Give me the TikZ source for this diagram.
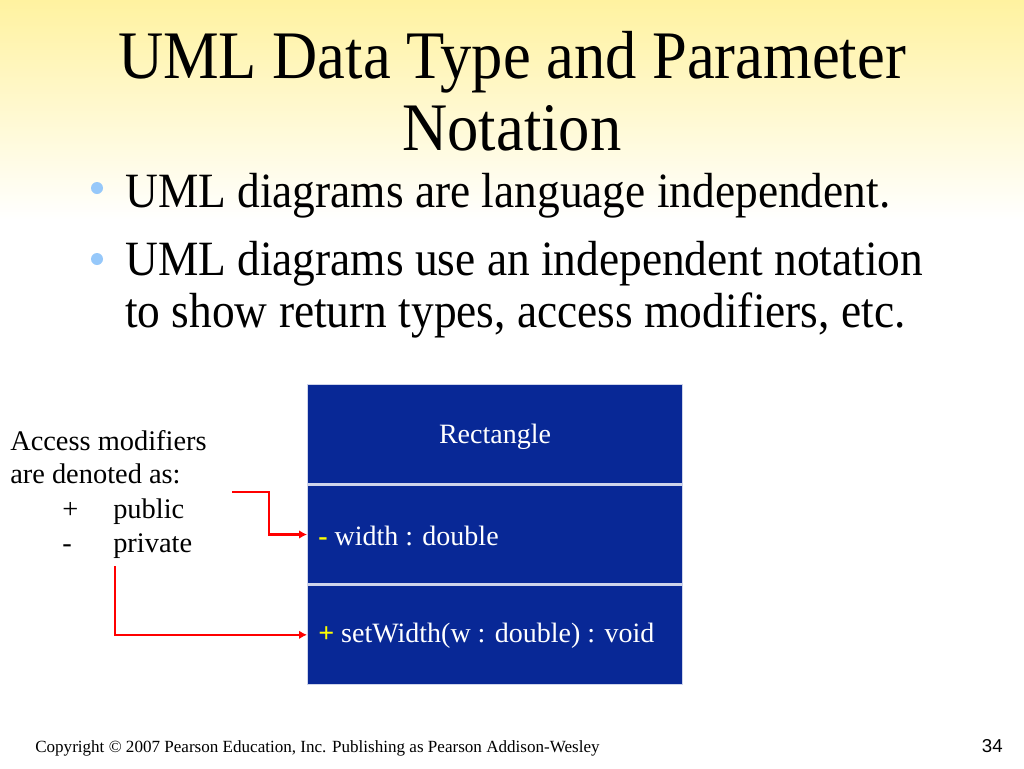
\documentclass[tikz,border=0pt]{standalone}
\usepackage{fontspec}
\setmainfont{Liberation Serif}
\newfontfamily\numfont{Liberation Sans}
\usetikzlibrary{arrows.meta,positioning}

\definecolor{slideyellow}{RGB}{255,242,160}
\definecolor{classblue}{RGB}{8,40,150}
\definecolor{bulletblue}{RGB}{150,200,250}
\definecolor{markyellow}{RGB}{255,255,0}
\newcommand{\modsign}[1]{\textcolor{markyellow}{\textbf{#1}}}
\newcommand{\narrowtext}[1]{\scalebox{0.92}[1]{#1}}

\begin{document}
\begin{tikzpicture}[
  x=0.75pt, y=-0.75pt,
  title/.style={inner sep=0pt, anchor=base, font=\fontsize{51}{54}\selectfont},
  bulletline/.style={inner sep=0pt, anchor=base west, font=\fontsize{37}{40}\selectfont},
  dot/.style={circle, fill=bulletblue, inner sep=0pt, minimum size=9pt},
  compart/.style={draw=white!80!classblue, line width=1pt, fill=classblue, minimum width=281.25pt, minimum height=74.25pt, inner sep=0pt},
  member/.style={inner sep=0pt, anchor=base west, text=white, font=\fontsize{21}{24}\selectfont},
  note/.style={inner sep=0pt, anchor=base west, font=\fontsize{21.3}{24}\selectfont},
  arr/.style={-{Latex[length=6pt,width=6.5pt]}, red, line width=2pt}
]
\useasboundingbox (0,0) rectangle (1024,768);
\shade[top color=slideyellow, bottom color=white] (0,0) rectangle (1024,220);

\node[title] (title1) at (512,78) {\narrowtext{UML Data Type and Parameter}};
\node[title] (title2) at (512,150) {\narrowtext{Notation}};

\node[dot] (dot1) at (97,188) {};
\node[bulletline] (bullet1) at (125,207) {\narrowtext{UML diagrams are language independent.}};
\node[dot] (dot2) at (97,259) {};
\node[bulletline] (bullet2) at (125,275) {\narrowtext{UML diagrams use an independent notation}};
\node[bulletline] (bullet2b) at (125,327) {\narrowtext{to show return types, access modifiers, etc.}};

% class box
\node[compart, anchor=north west] (cname) at (307,384) {};
\node[compart, below=0pt of cname] (cattr) {};
\node[compart, below=0pt of cattr] (cop) {};
\node[member, anchor=base] (clsname) at (495,443) {Rectangle};
\node[member] (attr) at (318,545) {\modsign{-} width : double};
\node[member] (oper) at (318,642) {\modsign{+} setWidth(w : double) : void};

% legend
\node[note] (acc1) at (10,450) {Access modifiers};
\node[note] (acc2) at (10,483) {are denoted as:};
\node[note] (plus) at (62,518) {+};
\node[note] (public) at (113,518) {public};
\node[note] (minus) at (62,552) {-};
\node[note] (private) at (113,552) {private};

\coordinate (from1) at (232,492);
\coordinate (from2) at (115,566);
\draw[arr] (from1) -- (269,492) |- (cattr.west);
\draw[arr] (from2) |- (cop.west);

\node[note, font=\fontsize{12.8}{14}\selectfont] (copyright) at (35,752)
  {Copyright \textcopyright{} 2007 Pearson Education, Inc. Publishing as Pearson Addison-Wesley};
\node[inner sep=0pt, anchor=base east, font=\numfont\fontsize{14}{16}\selectfont] (pagenum) at (1003,752) {34};
\end{tikzpicture}
\end{document}
